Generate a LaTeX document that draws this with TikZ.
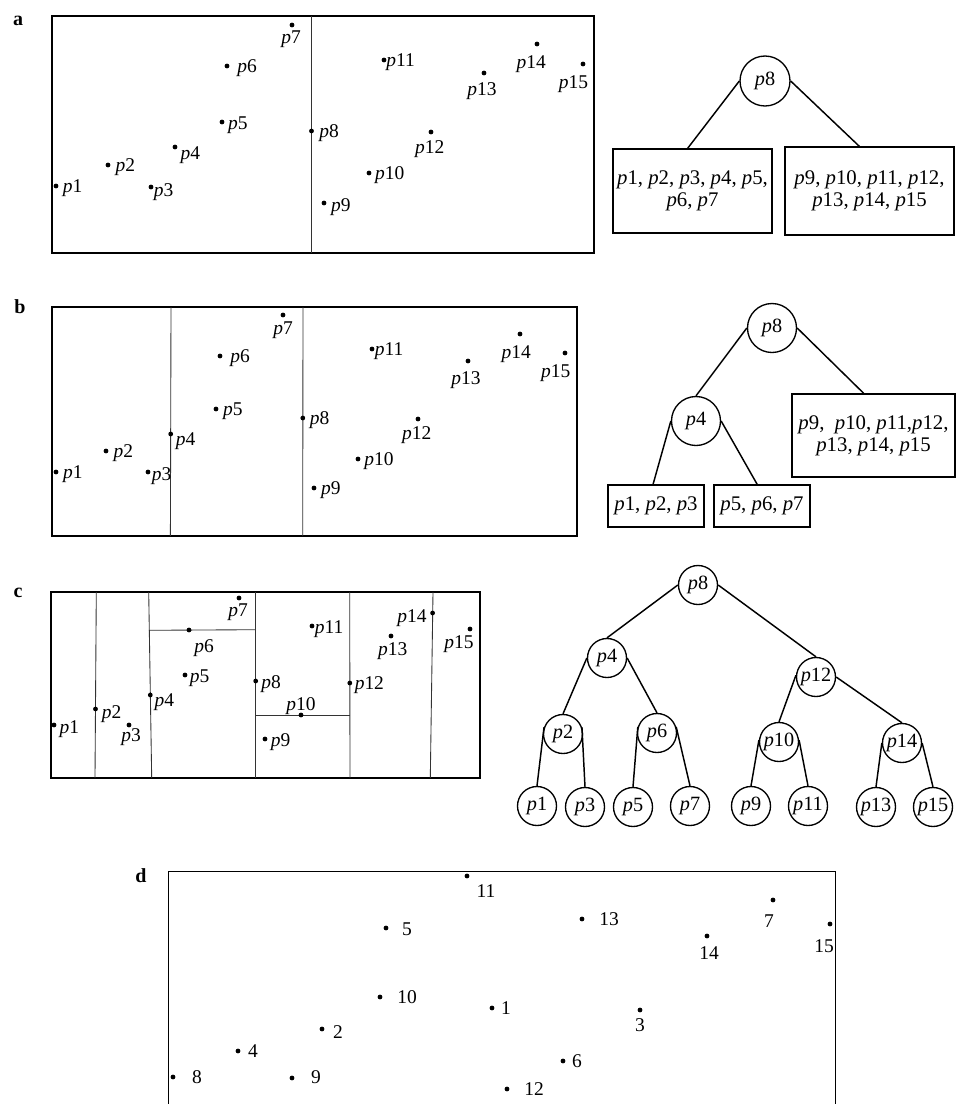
\documentclass[tikz,border=0pt]{standalone}
\usepackage{fontspec}
\setmainfont{Liberation Serif}
\usetikzlibrary{calc}

% point name p<i>: italic p, upright index
\newcommand\ptxt[1]{\textit{p}#1}
% a data point: name, x, y, label anchor, label dx, label dy, label text
\newcommand\plotpt[7]{%
  \node[dot] (#1) at (#2,#3) {};
  \node[lbl, anchor=#4] (#1t) at ($(#1)+(#5,#6)$) {#7};}

\tikzset{
  dot/.style={circle, fill=black, inner sep=0pt, minimum size=3.6pt},
  lbl/.style={inner sep=0pt, font=\fontsize{14.6pt}{16pt}\selectfont},
  frame/.style={line width=1.4pt},
  cut/.style={line width=0.65pt, draw=black!80},
  tnode/.style={circle, draw, line width=1pt, inner sep=0pt,
    font=\fontsize{15.2pt}{17pt}\selectfont},
  tbox/.style={draw, line width=1.1pt, inner sep=0pt, align=center,
    font=\fontsize{15.6pt}{16.5pt}\selectfont},
  edge/.style={line width=1.1pt},
  panel/.style={inner sep=0pt, font=\bfseries\fontsize{15pt}{17pt}\selectfont}
}

\begin{document}
\begin{tikzpicture}[x=0.75pt, y=-0.75pt]
\useasboundingbox (0,0) rectangle (957,1104);
\clip (0,0) rectangle (957,1104);

% ---------------- panel a ----------------
\node[panel, anchor=base] (la) at (18,25) {a};
\draw[frame] (52,16) rectangle (594,253);
\draw[cut] (311.5,16) -- (311.5,253);
\plotpt{a1}{56}{186}{base west}{6.5}{6.5}{\ptxt1}
\plotpt{a2}{108}{165}{base west}{7.3}{6.5}{\ptxt2}
\plotpt{a3}{151}{187}{base west}{2.7}{9.5}{\ptxt3}
\plotpt{a4}{175}{147}{base west}{5.4}{12.5}{\ptxt4}
\plotpt{a5}{222}{122}{base west}{5.8}{7}{\ptxt5}
\plotpt{a6}{227}{66}{base west}{10}{6.5}{\ptxt6}
\plotpt{a7}{292}{25}{base}{-1}{18}{\ptxt7}
\plotpt{a8}{311.5}{131}{base west}{7.7}{6.5}{\ptxt8}
\plotpt{a9}{324}{203}{base west}{6.9}{8.5}{\ptxt9}
\plotpt{a10}{369}{173}{base west}{5.8}{6.5}{\ptxt{10}}
\plotpt{a11}{384}{60}{base west}{2}{6.5}{\ptxt{11}}
\plotpt{a12}{431}{132}{base}{-1.2}{21}{\ptxt{12}}
\plotpt{a13}{484}{73}{base}{-2}{22}{\ptxt{13}}
\plotpt{a14}{537}{44}{base}{-5.8}{24}{\ptxt{14}}
\plotpt{a15}{583}{64}{base}{-9.6}{24}{\ptxt{15}}

% tree a
\node[tnode, minimum size=37.5pt] (ta8) at (765,81) {\ptxt8};
\node[tbox, minimum width=119.25pt, minimum height=63pt] (taL) at (692.5,191)
  {\ptxt1, \ptxt2, \ptxt3, \ptxt4, \ptxt5,\\ \ptxt6, \ptxt7};
\node[tbox, minimum width=126.75pt, minimum height=66pt] (taR) at (869.5,191)
  {\ptxt9, \ptxt{10}, \ptxt{11}, \ptxt{12},\\ \ptxt{13}, \ptxt{14}, \ptxt{15}};
\draw[edge] (ta8.west) -- ($(taL.north west)!0.47!(taL.north east)$);
\draw[edge] (ta8.east) -- ($(taR.north west)!0.44!(taR.north east)$);

% ---------------- panel b ----------------
\node[panel, anchor=base] (lb) at (20,313) {b};
\draw[frame] (52,307) rectangle (577,536);
\draw[cut] (171,307) -- (170.4,536);
\draw[cut] (303,307) -- (302.7,536);
\plotpt{b1}{56}{472}{base west}{6.9}{6.5}{\ptxt1}
\plotpt{b2}{106}{451}{base west}{7.3}{6.5}{\ptxt2}
\plotpt{b3}{148}{472}{base west}{3.5}{8}{\ptxt3}
\plotpt{b4}{170.7}{434}{base west}{5}{11.5}{\ptxt4}
\plotpt{b5}{216}{409}{base west}{6.9}{6.5}{\ptxt5}
\plotpt{b6}{220}{356}{base west}{10}{6.5}{\ptxt6}
\plotpt{b7}{283}{315}{base}{0}{19}{\ptxt7}
\plotpt{b8}{302.8}{418}{base west}{6.9}{6.5}{\ptxt8}
\plotpt{b9}{314}{488}{base west}{6.9}{6.5}{\ptxt9}
\plotpt{b10}{358}{459}{base west}{6.2}{6.5}{\ptxt{10}}
\plotpt{b11}{372}{349}{base west}{2.7}{6.5}{\ptxt{11}}
\plotpt{b12}{418}{419}{base}{-1.2}{20}{\ptxt{12}}
\plotpt{b13}{468}{361}{base}{-2}{23}{\ptxt{13}}
\plotpt{b14}{520}{334}{base}{-3.8}{24}{\ptxt{14}}
\plotpt{b15}{565}{353}{base}{-9.2}{24}{\ptxt{15}}

% tree b
\node[tnode, minimum size=36.75pt] (tb8) at (772,328) {\ptxt8};
\node[tnode, minimum size=36.75pt] (tb4) at (696,421) {\ptxt4};
\node[tbox, minimum width=122.25pt, minimum height=62.25pt] (tbR) at (873.5,435.5)
  {\ptxt9,\ \ \ptxt{10}, \ptxt{11},\ptxt{12},\\ \ptxt{13}, \ptxt{14}, \ptxt{15}};
\node[tbox, minimum width=72pt, minimum height=31.5pt] (tbL1) at (656,506)
  {\ptxt1, \ptxt2, \ptxt3};
\node[tbox, minimum width=72pt, minimum height=31.5pt] (tbL2) at (762,506)
  {\ptxt5, \ptxt6, \ptxt7};
\draw[edge] (tb8.west) -- (tb4.north);
\draw[edge] (tb8.east) -- ($(tbR.north west)!0.44!(tbR.north east)$);
\draw[edge] (tb4.west) -- ($(tbL1.north west)!0.47!(tbL1.north east)$);
\draw[edge] (tb4.east) -- ($(tbL2.north west)!0.45!(tbL2.north east)$);

% ---------------- panel c ----------------
\node[panel, anchor=base] (lc) at (18,597) {c};
\draw[frame] (51,592) rectangle (480,778);
\draw[cut] (96.3,592) -- (95,778);
\draw[cut] (148.7,592) -- (151.7,778);
\draw[cut] (255.7,592) -- (255.7,778);
\draw[cut] (349.7,592) -- (350,778);
\draw[cut] (433,592) -- (430.3,778);
\draw[cut] (148.9,630.3) -- (255.7,629.7);
\draw[cut] (255.7,715) -- (349.8,715);
\plotpt{c1}{54}{725}{base west}{5.3}{8.5}{\ptxt1}
\plotpt{c2}{95.5}{709}{base west}{6}{9.5}{\ptxt2}
\plotpt{c3}{129}{725}{base}{2}{16.3}{\ptxt3}
\plotpt{c4}{150.3}{695}{base west}{4}{11.5}{\ptxt4}
\plotpt{c5}{185}{675}{base west}{4.7}{7.5}{\ptxt5}
\plotpt{c6}{189}{630}{base}{15}{22.7}{\ptxt6}
\plotpt{c7}{239}{598}{base}{-1}{18.7}{\ptxt7}
\plotpt{c8}{255.7}{681}{base west}{5.3}{7.5}{\ptxt8}
\plotpt{c9}{265}{739}{base west}{5.7}{7.5}{\ptxt9}
\plotpt{c10}{301}{715}{base}{0}{-5}{\ptxt{10}}
\plotpt{c11}{312}{626}{base west}{2.7}{7.5}{\ptxt{11}}
\plotpt{c12}{349.8}{683}{base west}{4.7}{6}{\ptxt{12}}
\plotpt{c13}{391}{636}{base}{1.7}{19.3}{\ptxt{13}}
\plotpt{c14}{432.6}{613}{base east}{-5.7}{9.8}{\ptxt{14}}
\plotpt{c15}{470}{629}{base}{-11}{19.7}{\ptxt{15}}

% tree c
\begin{scope}[every node/.style={tnode, minimum size=29.25pt}]
  \node (tc8) at (698,585) {\ptxt8};
  \node (tc4) at (607,658) {\ptxt4};
  \node (tc12) at (816,677) {\ptxt{12}};
  \node (tc2) at (563,734) {\ptxt2};
  \node (tc6) at (657,733) {\ptxt6};
  \node (tc10) at (779,742) {\ptxt{10}};
  \node (tc14) at (902,743) {\ptxt{14}};
  \node (tc1) at (537,806) {\ptxt1};
  \node (tc3) at (585,807) {\ptxt3};
  \node (tc5) at (633,807) {\ptxt5};
  \node (tc7) at (690,806) {\ptxt7};
  \node (tc9) at (751,806) {\ptxt9};
  \node (tc11) at (808,806) {\ptxt{11}};
  \node (tc13) at (876,807) {\ptxt{13}};
  \node (tc15) at (933,807) {\ptxt{15}};
\end{scope}
\draw[edge] (tc8.west) -- (tc4.north);
\draw[edge] (tc8.east) -- (tc12.north);
\draw[edge] (tc4.west) -- (tc2.north);
\draw[edge] (tc4.east) -- (tc6.north);
\draw[edge] (tc12.175) -- (tc10.north);
\draw[edge] (tc12.east) -- (tc14.north);
\draw[edge] (tc2.160) -- (tc1.north);
\draw[edge] (tc2.20) -- (tc3.north);
\draw[edge] (tc6.162) -- (tc5.north);
\draw[edge] (tc6.18) -- (tc7.north);
\draw[edge] (tc10.174) -- (tc9.north);
\draw[edge] (tc10.6) -- (tc11.north);
\draw[edge] (tc14.west) -- (tc13.north);
\draw[edge] (tc14.east) -- (tc15.north);

% ---------------- panel d ----------------
\node[panel, anchor=base] (ld) at (141,882) {d};
\draw[line width=1pt] (168.8,1110) -- (168.8,871.7) -- (835.3,871.7) -- (835.3,1110);
\plotpt{d11}{467}{876}{base}{19}{21}{11}
\plotpt{d5}{386}{928}{base}{21}{7}{5}
\plotpt{d13}{582}{919}{base}{27}{6.5}{13}
\plotpt{d7}{773}{900}{base}{-4}{27}{7}
\plotpt{d14}{707}{936}{base}{2}{23}{14}
\plotpt{d15}{830}{924}{base}{-6}{28}{15}
\plotpt{d10}{380}{997}{base}{27}{6.5}{10}
\plotpt{d1}{492}{1008}{base}{14}{6.5}{1}
\plotpt{d3}{640}{1010}{base}{0}{21.5}{3}
\plotpt{d2}{322}{1029}{base}{16}{9}{2}
\plotpt{d4}{238}{1051}{base}{15}{6.5}{4}
\plotpt{d6}{563}{1061}{base}{14}{6.5}{6}
\plotpt{d8}{173}{1077}{base}{24}{6.5}{8}
\plotpt{d9}{292}{1078}{base}{24}{5}{9}
\plotpt{d12}{507}{1089}{base}{27}{6.5}{12}
\end{tikzpicture}
\end{document}
